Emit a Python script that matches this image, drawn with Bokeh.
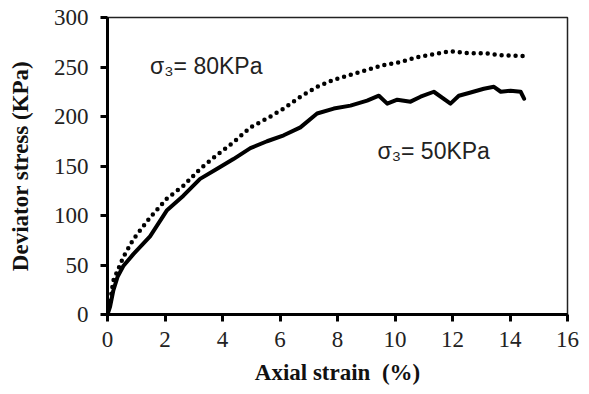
from bokeh.plotting import figure
from bokeh.embed import file_html
from bokeh.resources import INLINE
from bokeh.models import Range1d, FixedTicker
from bokeh.core.properties import value

# sigma3 = 50 KPa (solid)
strain_50 = [0.0, 0.09, 0.20, 0.35, 0.55, 0.90, 1.48, 2.06, 2.64, 3.22, 3.80, 4.38, 4.97, 5.55,
             6.13, 6.71, 7.29, 7.87, 8.45, 9.03, 9.44, 9.73, 10.08, 10.54, 10.89, 11.35, 11.93,
             12.22, 12.60, 13.09, 13.44, 13.68, 14.02, 14.37, 14.49]
stress_50 = [0, 8, 24, 38, 49, 61, 79, 105, 120, 137, 147, 157, 168, 175,
             181, 189, 203, 208, 211, 216, 221, 213, 217, 215, 220, 225, 213,
             221, 224, 228, 230, 225, 226, 225, 218]

# sigma3 = 80 KPa (dotted)
strain_80 = [0.0, 0.10, 0.20, 0.55, 0.90, 1.48, 2.06, 2.64, 3.22, 3.80, 4.38, 4.97, 5.55, 6.13,
             6.71, 7.29, 7.87, 8.45, 9.03, 9.61, 10.19, 10.77, 11.35, 11.93, 12.51, 13.09,
             13.68, 14.49]
stress_80 = [0, 14, 34, 58, 76, 98, 117, 130, 147, 161, 174, 189, 198, 208,
             220, 230, 237, 242, 247, 252, 255, 260, 263, 266, 264, 264, 262, 261]

x_ticks = [0, 2, 4, 6, 8, 10, 12, 14, 16]
y_ticks = [0, 50, 100, 150, 200, 250, 300]

labels = ["σ₃= 80KPa", "σ₃= 50KPa"]
label_x = [1.48, 9.39]
label_y = [251, 165]

p = figure(width=589, height=394, output_backend="svg", toolbar_location=None,
           x_range=Range1d(0, 16), y_range=Range1d(0, 300),
           min_border_left=107, min_border_right=22, min_border_top=17, min_border_bottom=80)

p.background_fill_color = "white"
p.border_fill_color = "white"
p.grid.visible = False
p.outline_line_color = "#222222"
p.outline_line_width = 1.5

p.line(strain_50, stress_50, line_color="black", line_width=4, line_join="round", line_cap="round")
p.line(strain_80, stress_80, line_color="black", line_width=4.5, line_dash="0 7", line_cap="round")

p.text(x=label_x, y=label_y, text=labels, text_font=value("Liberation Sans"),
       text_font_size="23px", text_baseline="middle", text_align="left", text_color="#222222")

for ax in (p.xaxis[0], p.yaxis[0]):
    ax.axis_line_width = 3
    ax.axis_line_color = "black"
    ax.major_tick_line_width = 3
    ax.major_tick_line_color = "black"
    ax.major_tick_out = 7
    ax.major_tick_in = 0
    ax.minor_tick_line_color = None
    ax.major_label_text_font = "Liberation Serif"
    ax.major_label_text_font_size = "23px"
    ax.major_label_text_color = "#222222"
    ax.axis_label_text_font = "Liberation Serif"
    ax.axis_label_text_font_size = "23px"
    ax.axis_label_text_font_style = "bold"
    ax.axis_label_text_color = "#111111"

p.xaxis[0].ticker = FixedTicker(ticks=x_ticks)
p.yaxis[0].ticker = FixedTicker(ticks=y_ticks)
p.xaxis[0].axis_label = "Axial strain\u00a0\u00a0(%)"
p.yaxis[0].axis_label = "Deviator stress (KPa)"
p.xaxis[0].major_label_standoff = 10
p.yaxis[0].major_label_standoff = 12
p.xaxis[0].axis_label_standoff = 10
p.yaxis[0].axis_label_standoff = 18

open("out.html", "w").write(file_html(p, INLINE))
